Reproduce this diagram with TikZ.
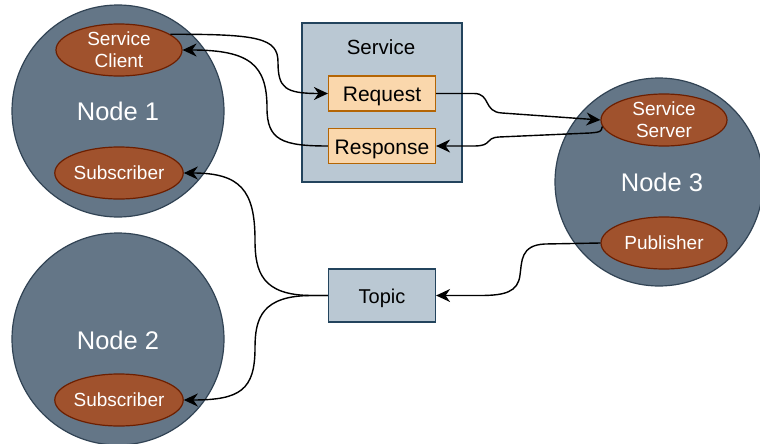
\documentclass[tikz,border=0pt]{standalone}
\usepackage{fontspec}
\setmainfont{Liberation Sans}
\usetikzlibrary{arrows.meta}
\definecolor{nodefill}{HTML}{647687}
\definecolor{nodedraw}{HTML}{314354}
\definecolor{elfill}{HTML}{A0522D}
\definecolor{eldraw}{HTML}{6D1F00}
\definecolor{boxfill}{HTML}{BAC8D3}
\definecolor{boxdraw}{HTML}{23445D}
\definecolor{orfill}{HTML}{FAD7AC}
\definecolor{ordraw}{HTML}{B46504}
\tikzset{
  rosnode/.style={circle, fill=nodefill, draw=nodedraw, line width=1.2pt, minimum size=#1, inner sep=0pt, text=white, font=\fontsize{25.5}{30}\selectfont},
  role/.style={ellipse, fill=elfill, draw=eldraw, line width=1.2pt, minimum width=126pt, minimum height=52pt, inner sep=0pt, text=white, align=center, font=\fontsize{19}{22}\selectfont},
  outerbox/.style={rectangle, fill=boxfill, draw=boxdraw, line width=1.2pt, minimum width=160pt, minimum height=159pt, inner sep=0pt},
  msgbox/.style={rectangle, fill=orfill, draw=ordraw, line width=1.2pt, minimum width=107pt, minimum height=35pt, inner sep=0pt, text height=18pt, text depth=2pt, font=\fontsize{21}{24}\selectfont},
  topicbox/.style={rectangle, fill=boxfill, draw=boxdraw, line width=1.2pt, minimum width=107pt, minimum height=53pt, inner sep=0pt, text height=18pt, text depth=3pt, font=\fontsize{20}{24}\selectfont},
  conn/.style={line width=1.4pt, black},
  arr/.style={conn, -{Stealth[length=14pt, width=13pt, inset=4.5pt]}},
}
\usetikzlibrary{shapes.geometric}
\begin{document}
\begin{tikzpicture}[x=1pt, y=-1pt]
\useasboundingbox (0,0) rectangle (760,444);
\begin{scope}
\clip (0,0) rectangle (760,444);
% nodes
\node[rosnode=212pt] (n1) at (118,111) {};
\node[text=white, font=\fontsize{25.5}{30}\selectfont] (n1t) at (118,111) {Node 1};
\node[rosnode=212pt] (n2) at (118,339) {};
\node[text=white, font=\fontsize{25.5}{30}\selectfont] (n2t) at (118,340) {Node 2};
\node[rosnode=208pt] (n3) at (659,182) {};
\node[text=white, font=\fontsize{25.5}{30}\selectfont] (n3t) at (662,182) {Node 3};
\end{scope}

\node[role] (sc) at (119,50) {Service\\Client};
\node[role] (sub1) at (119,173) {Subscriber};
\node[role] (sub2) at (119,400) {Subscriber};
\node[role] (ss) at (664,120) {Service\\Server};
\node[role] (pub) at (664,243) {Publisher};

\node[outerbox] (svc) at (382,102.5) {};
\node[font=\fontsize{20.5}{24}\selectfont] (svct) at (381,47) {Service};
\node[msgbox] (req) at (382,93.5) {Request};
\node[msgbox] (resp) at (382,146) {Response};
\node[topicbox] (topic) at (382,295.5) {Topic};

% connectors
\draw[arr] (sc.17) .. controls (258,34) and (278,38) .. (278,62)
  .. controls (278,88) and (285,93.5) .. (req.west);
\draw[arr] (resp.west) .. controls (282,146) and (267,140) .. (267,108)
  .. controls (267,65) and (250,50) .. (sc.east);
\draw[arr] (req.east) -- (474,93.5) .. controls (491,93.5) and (483,112) .. (502,113) -- (ss.west);
\draw[arr] (ss.186) .. controls (601,132) .. (590,133) -- (499,137)
  .. controls (484,138) and (493,146) .. (474,146) -- (resp.east);
\draw[arr] (pub.west) -- (545,244) .. controls (520,245) and (522,262) .. (520,275)
  .. controls (518,292) and (505,295.5) .. (480,295.5) -- (topic.east);
\draw[arr] (topic.west) -- (312,295.5) .. controls (262,295.5) and (255,272) .. (255,240)
  .. controls (255,190) and (240,173) .. (sub1.east);
\draw[arr] (topic.west) -- (312,295.5) .. controls (262,295.5) and (255,318) .. (255,348)
  .. controls (255,390) and (240,400) .. (sub2.east);
\end{tikzpicture}
\end{document}
